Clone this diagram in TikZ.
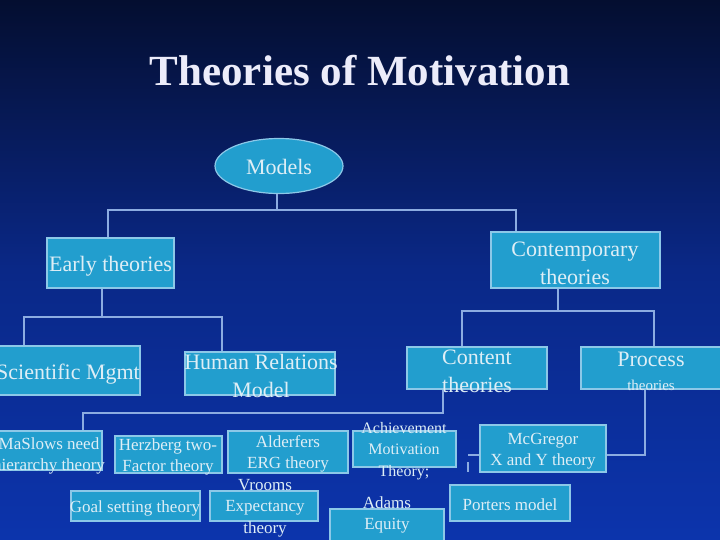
\documentclass[tikz,border=0pt]{standalone}
\usepackage{fontspec}
\setmainfont{Liberation Serif}
\usetikzlibrary{shapes.geometric}
\definecolor{bgtop}{RGB}{4,14,48}
\definecolor{bgmid}{RGB}{10,40,135}
\definecolor{bgbot}{RGB}{12,52,172}
\definecolor{boxfill}{RGB}{34,158,206}
\definecolor{boxline}{RGB}{140,200,232}
\definecolor{txtc}{RGB}{222,238,246}
\definecolor{connc}{RGB}{140,172,225}
\definecolor{titlec}{RGB}{236,236,250}
\begin{document}
\begin{tikzpicture}[x=1pt,y=-1pt,
 bx/.style={rectangle, draw=boxline, fill=boxfill, line width=1.2pt, inner sep=0pt},
 txt/.style={text=txtc, inner sep=0pt, align=center, font=\fontsize{22}{28}\selectfont},
 stxt/.style={text=txtc, inner sep=0pt, align=center, font=\fontsize{17}{21.5}\selectfont},
 conn/.style={draw=connc, line width=2pt}]
\fill[top color=bgtop, bottom color=bgbot, middle color=bgmid] (0,0) rectangle (720,539);
\useasboundingbox (0,0) rectangle (720,539);

\node[text=titlec, inner sep=0pt, font=\fontsize{43}{43}\selectfont\bfseries] (title) at (360,71) {Theories of Motivation};

% boxes
\node[ellipse, draw=boxline, fill=boxfill, line width=1.2pt, minimum width=128pt, minimum height=55pt, inner sep=0pt] (models) at (279,166) {};
\node[bx, minimum width=127pt, minimum height=50pt] (early) at (110.5,263) {};
\node[bx, minimum width=169pt, minimum height=56pt] (contemp) at (575.5,260) {};
\node[bx, minimum width=144pt, minimum height=49pt] (sci) at (68,370.5) {};
\node[bx, minimum width=150pt, minimum height=43pt] (hrm) at (260,373.5) {};
\node[bx, minimum width=140pt, minimum height=42pt] (content) at (477,368) {};
\node[bx, minimum width=150pt, minimum height=42pt] (process) at (656,368) {};
\node[bx, minimum width=107pt, minimum height=39pt] (maslow) at (48.5,450.5) {};
\node[bx, minimum width=107pt, minimum height=37pt] (herz) at (168.5,454.5) {};
\node[bx, minimum width=120pt, minimum height=42pt] (alder) at (288,452) {};
\node[bx, minimum width=103pt, minimum height=36pt] (achieve) at (404.5,449) {};
\node[bx, minimum width=126pt, minimum height=47pt] (mcg) at (543,448.5) {};
\node[bx, minimum width=129pt, minimum height=30pt] (goal) at (135.5,506) {};
\node[bx, minimum width=108pt, minimum height=30pt] (vroom) at (264,506) {};
\node[bx, minimum width=114pt, minimum height=36pt] (adams) at (387,527) {};
\node[bx, minimum width=120pt, minimum height=36pt] (porter) at (510,503) {};

% texts
\node[txt] (tmodels) at (279,167) {Models};
\node[txt] (tearly) at (110.5,266) {Early theories};
\node[txt] (tcontemp) at (575,263) {Contemporary\\theories};
\node[txt] (tsci) at (68,374) {Scientific Mgmt};
\node[txt] (thrm) at (261,376) {Human Relations\\Model};
\node[txt] (tcontent) at (477,371) {Content\\theories};
\node[txt] (tprocess) at (651,371) {Process\\[-4pt]{\fontsize{15}{15}\selectfont theories}};
\node[stxt] (tmaslow) at (49,456) {MaSlows need\\hierarchy theory};
\node[stxt] (therz) at (168,457) {Herzberg two-\\Factor theory};
\node[stxt] (talder) at (288,454) {Alderfers\\ERG theory};
\node[stxt, font=\fontsize{16}{21.5}\selectfont] (tachieve) at (404,451) {Achievement\\Motivation\\Theory;};
\node[stxt] (tmcg) at (543,451) {McGregor\\X and Y theory};
\node[stxt] (tgoal) at (135,508) {Goal setting theory};
\node[stxt] (tvroom) at (265,508) {Vrooms\\Expectancy\\theory};
\node[stxt] (tadams) at (387,515) {Adams\\Equity};
\node[stxt] (tporter) at (510,505) {Porters model};

% connectors
\coordinate (busM) at (277,210);
\draw[conn] (models.south -| busM) -- (busM);
\draw[conn] ([xshift=-2.5pt]early.north) |- (busM) -| ([xshift=-59.5pt]contemp.north);

\coordinate (busE) at (102,317);
\draw[conn] (early.south -| busE) -- (busE);
\draw[conn] ([xshift=-44pt]sci.north) |- (busE) -| ([xshift=-38pt]hrm.north);

\coordinate (busC) at (558,311);
\draw[conn] (contemp.south -| busC) -- (busC);
\draw[conn] ([xshift=-15pt]content.north) |- (busC) -| (process.north -| 654,0);

\coordinate (busD) at (443,413);
\draw[conn] (content.south -| busD) -- (busD) -| ([xshift=34.5pt]maslow.north);

\draw[conn] ([xshift=-11pt]process.south) |- ([yshift=-6.5pt]mcg.east);
\coordinate (stubA) at (468,455);
\coordinate (stubB) at (468,462);
\coordinate (stubC) at (468,472);
\draw[conn] ([yshift=-6.5pt]mcg.west) -- (stubA);
\draw[conn] (stubB) -- (stubC);
\end{tikzpicture}
\end{document}
